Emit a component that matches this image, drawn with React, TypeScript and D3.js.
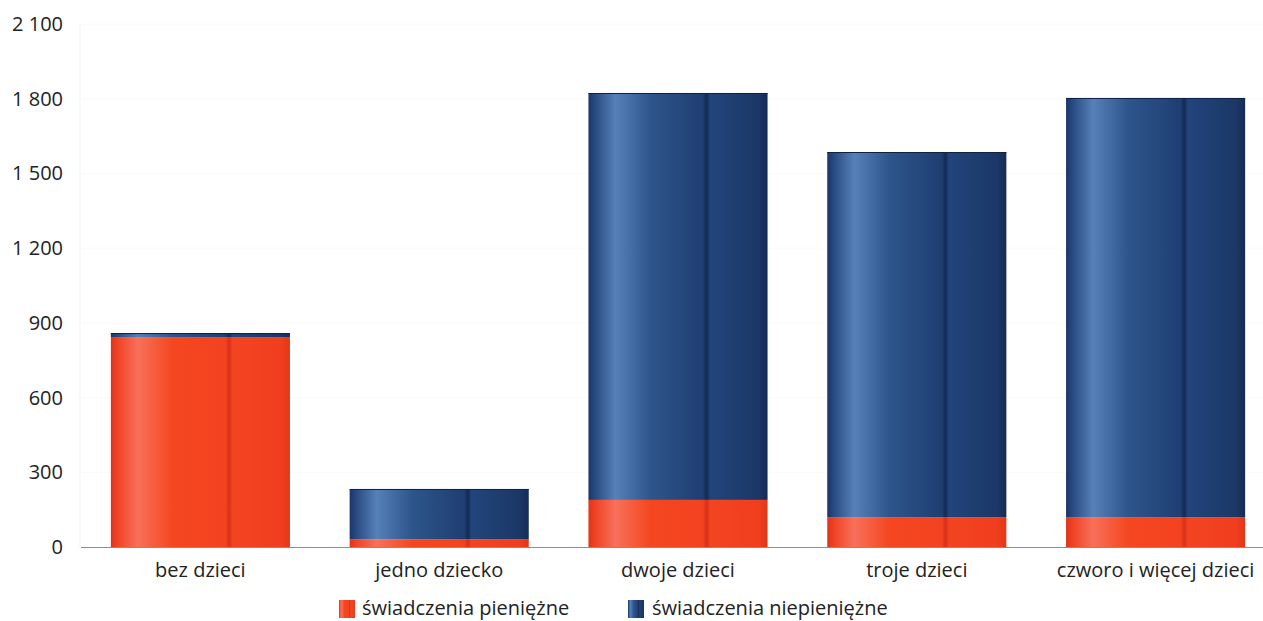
import React from "react";
import * as d3 from "d3";

const categories = ["bez dzieci", "jedno dziecko", "dwoje dzieci", "troje dzieci", "czworo i więcej dzieci"];
const pieniezne = [843, 30, 189, 120, 120];
const niepieniezne = [16, 203, 1634, 1466, 1683];
const yTicks = [0, 300, 600, 900, 1200, 1500, 1800, 2100];
const seriesNames = ["świadczenia pieniężne", "świadczenia niepieniężne"];

const W = 1263;
const H = 621;
const FONT = "'Open Sans', 'Noto Sans', sans-serif";
const FS = 20;

export default function App() {
  const x = d3.scaleBand<string>().domain(categories).range([81, 1275]).paddingInner(0.25).paddingOuter(0.125);
  const y = d3.scaleLinear().domain([0, 2100]).range([547, 24]);
  const fmt = (v: number) => d3.format(",")(v).replace(/,/g, " ");
  const stops = (c: string[]) =>
    [0, 0.04, 0.15, 0.35, 0.64, 0.66, 0.68, 0.95, 1].map((o, i) => (
      <stop key={i} offset={o} stopColor={c[i]} />
    ));
  const red = ["#e0341a", "#f04426", "#f8705a", "#f4461f", "#f34220", "#d8301a", "#f34422", "#f03e1e", "#e0381a"];
  const blue = ["#1a3568", "#2a4c84", "#5680b8", "#2d558c", "#1f3e72", "#132a52", "#22457c", "#1b3766", "#142b55"];
  return (
    <svg width={W} height={H} style={{ position: "absolute", left: 0, top: 0, background: "#fff" }} fontFamily={FONT}>
      <defs>
        <linearGradient id="gRed" x1="0" x2="1" y1="0" y2="0">{stops(red)}</linearGradient>
        <linearGradient id="gBlue" x1="0" x2="1" y1="0" y2="0">{stops(blue)}</linearGradient>
      </defs>
      <line x1={80} x2={80} y1={24} y2={547} stroke="#f2f2f2" />
      {yTicks.filter((t) => t > 0).map((t) => (
        <line key={"g" + t} x1={81} x2={W} y1={y(t)} y2={y(t)} stroke="#fafafa" />
      ))}
      {yTicks.map((t) => (
        <text key={t} x={63} y={y(t)} dy="0.35em" textAnchor="end" fontSize={FS} fill="#222">
          {fmt(t)}
        </text>
      ))}
      {categories.map((c, i) => {
        const x0 = x(c)!;
        const bw = x.bandwidth();
        const r0 = y(0), r1 = y(pieniezne[i]);
        const b1 = y(pieniezne[i] + niepieniezne[i]);
        return (
          <g key={c}>
            <rect x={x0} y={r1} width={bw} height={r0 - r1} fill="url(#gRed)" />
            <rect x={x0} y={b1} width={bw} height={r1 - b1} fill="url(#gBlue)" />
            <line x1={x0} x2={x0 + bw} y1={b1 + 0.5} y2={b1 + 0.5} stroke="#0f2244" strokeWidth={1} />
            <text x={x0 + bw / 2} y={577} textAnchor="middle" fontSize={FS} fill="#222">
              {c}
            </text>
          </g>
        );
      })}
      <line x1={81} x2={W} y1={y(0) + 0.5} y2={y(0) + 0.5} stroke="#7f8fa8" strokeWidth={1.2} />
      <rect x={339} y={600} width={16} height={18} fill="url(#gRed)" />
      <text x={362} y={615} fontSize={FS} fill="#222">{seriesNames[0]}</text>
      <rect x={628} y={600} width={16} height={18} fill="url(#gBlue)" />
      <text x={652} y={615} fontSize={FS} fill="#222">{seriesNames[1]}</text>
    </svg>
  );
}
